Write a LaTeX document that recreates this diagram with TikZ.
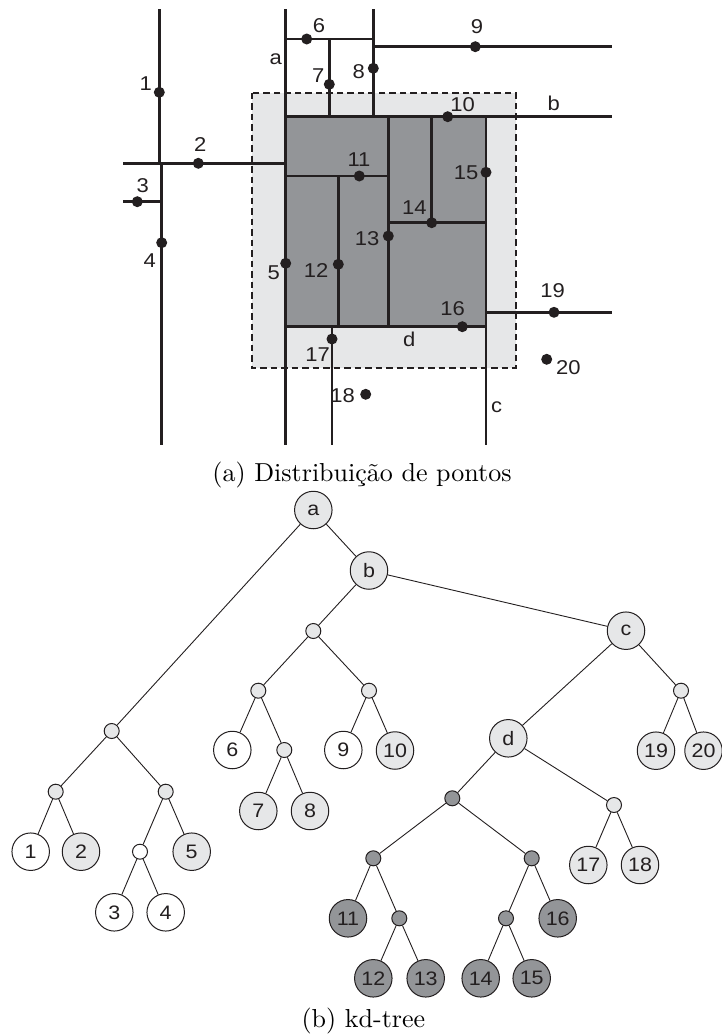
\documentclass[tikz,border=0pt]{standalone}
\usepackage{fontspec}
\newfontfamily\labfont{Liberation Sans}[FakeStretch=1.1]
\newfontfamily\capfont{lmroman10-regular}[Extension=.otf]
\definecolor{ink}{RGB}{35,31,32}
\definecolor{lightfill}{RGB}{230,231,232}
\definecolor{darkfill}{RGB}{147,149,152}
\tikzset{
  cut/.style={ink, line width=2.7pt},
  pt/.style={circle, fill=ink, inner sep=0pt, minimum size=11pt},
  lbl/.style={inner sep=0pt, text=ink, font=\labfont\fontsize{20}{22}\selectfont},
  caption/.style={inner sep=0pt, anchor=base, text=black, font=\capfont\fontsize{26}{30}\selectfont},
  tnode/.style={circle, draw=ink, line width=1pt, inner sep=0pt, minimum size=37.5pt,
    text=ink, font=\labfont\fontsize{19.5}{21}\selectfont},
  snode/.style={circle, draw=ink, line width=1pt, inner sep=0pt, minimum size=15pt},
  white/.style={fill=white},
  light/.style={fill=lightfill},
  dark/.style={fill=darkfill},
  edge/.style={ink, line width=0.9pt},
}
\begin{document}
\begin{tikzpicture}[x=1pt,y=-1pt]
\useasboundingbox (0,0) rectangle (722,1036);

% ---------- (a) point distribution ----------
% query region and the cells it fully covers
\fill[lightfill] (251.7,92.7) rectangle (516,367.7);
\fill[darkfill] (285.7,116.7) rectangle (486,326.7);

% splitting lines
\draw[cut] (159.3,9) -- (159.3,163.3);
\draw[cut] (161.7,163.3) -- (161.7,445);
\draw[cut] (123,163.3) -- (285.7,163.3);
\draw[cut] (123,201.7) -- (161.7,201.7);
\draw[cut] (285.7,9) -- (285.7,445);
\draw[cut] (285.7,39) -- (373.3,39);
\draw[cut] (329.3,39) -- (329.3,116.7);
\draw[cut] (373.3,9) -- (373.3,116.7);
\draw[cut] (373.3,46.7) -- (612.3,46.7);
\draw[cut] (285.7,116.7) -- (612.3,116.7);
\draw[cut] (486,116.7) -- (486,445);
\draw[cut] (285.7,326.7) -- (486,326.7);
\draw[cut] (285.7,176) -- (388.3,176);
\draw[cut] (388.3,116.7) -- (388.3,326.7);
\draw[cut] (338.3,176) -- (338.3,326.7);
\draw[cut] (431.7,116.7) -- (431.7,222.7);
\draw[cut] (388.3,222.7) -- (486,222.7);
\draw[cut] (332,326.7) -- (332,445);
\draw[cut] (486,312.3) -- (612.3,312.3);

\draw[ink, line width=2pt, dash pattern=on 6.5pt off 4pt] (251.7,92.7) rectangle (516,367.7);

% points
\node[pt] (p1) at (159.3,92.3) {};
\node[pt] (p2) at (198.3,163.3) {};
\node[pt] (p3) at (137.3,201.7) {};
\node[pt] (p4) at (161.7,242.7) {};
\node[pt] (p5) at (285.7,263.3) {};
\node[pt] (p6) at (306.7,39) {};
\node[pt] (p7) at (329.3,84.3) {};
\node[pt] (p8) at (373.3,68.3) {};
\node[pt] (p9) at (475.3,46.7) {};
\node[pt] (p10) at (447.7,116.7) {};
\node[pt] (p11) at (359.3,176) {};
\node[pt] (p12) at (338.3,264.3) {};
\node[pt] (p13) at (388.3,236) {};
\node[pt] (p14) at (431.7,222.7) {};
\node[pt] (p15) at (486,172.3) {};
\node[pt] (p16) at (462.3,326.7) {};
\node[pt] (p17) at (332,339) {};
\node[pt] (p18) at (365.7,394.3) {};
\node[pt] (p19) at (554,312.3) {};
\node[pt] (p20) at (546.7,359.3) {};

% point labels
\node[lbl] (l1) at (145.7,84) {1};
\node[lbl] (l2) at (200.3,144.3) {2};
\node[lbl] (l3) at (142.8,185.7) {3};
\node[lbl] (l4) at (149.7,260.7) {4};
\node[lbl] (l5) at (273.7,273) {5};
\node[lbl] (l6) at (319,25.7) {6};
\node[lbl] (l7) at (318.3,75.7) {7};
\node[lbl] (l8) at (358.7,71.7) {8};
\node[lbl] (l9) at (477,27) {9};
\node[lbl] (l10) at (462.7,104.3) {10};
\node[lbl] (l11) at (359,159.7) {11};
\node[lbl] (l12) at (316,270.3) {12};
\node[lbl] (l13) at (367,239) {13};
\node[lbl] (l14) at (414.3,207.3) {14};
\node[lbl] (l15) at (466,172.7) {15};
\node[lbl] (l16) at (452.7,309) {16};
\node[lbl] (l17) at (317.7,354.3) {17};
\node[lbl] (l18) at (342.7,395.3) {18};
\node[lbl] (l19) at (552.7,290.7) {19};
\node[lbl] (l20) at (568.3,367.3) {20};
% line labels
\node[lbl] (la) at (275.7,59.3) {a};
\node[lbl] (lb) at (553.7,103.3) {b};
\node[lbl] (lc) at (496.7,407.3) {c};
\node[lbl] (ld) at (409.3,339) {d};

\node[caption] (capa) at (362,481) {(a) Distribuição de pontos};

% ---------- (b) kd-tree ----------
\node[tnode, light] (ta) at (313.3,510) {a};
\node[tnode, light] (tb) at (369,570.5) {b};
\node[snode, light] (s1) at (313.3,631) {};
\node[snode, light] (s2) at (258.3,690.7) {};
\node[snode, light] (s3) at (369,690.7) {};
\node[tnode, white] (t6) at (232.3,750) {6};
\node[snode, light] (s4) at (284.3,750) {};
\node[tnode, white] (t9) at (343.3,750) {9};
\node[tnode, light] (t10) at (395,750.5) {10};
\node[tnode, light] (t7) at (258.3,811) {7};
\node[tnode, light] (t8) at (310,811) {8};

\node[snode, light] (sl) at (111.7,731) {};
\node[snode, light] (sl1) at (55.7,791.7) {};
\node[snode, light] (sl2) at (165.7,791.7) {};
\node[tnode, white] (t1) at (30.7,851.7) {1};
\node[tnode, light] (t2) at (81,851.7) {2};
\node[snode, white] (sw) at (140,851.7) {};
\node[tnode, light] (t5) at (191.7,851.7) {5};
\node[tnode, white] (t3) at (114.3,912.3) {3};
\node[tnode, white] (t4) at (165.7,912.3) {4};

\node[tnode, light] (tc) at (626,630.7) {c};
\node[snode, light] (sc) at (681,690.7) {};
\node[tnode, light] (t19) at (656,750.7) {19};
\node[tnode, light] (t20) at (703.5,750.7) {20};
\node[tnode, light] (td) at (508.3,738.3) {d};
\node[snode, dark] (sd1) at (452.3,798.3) {};
\node[snode, light] (sd2) at (614,805) {};
\node[snode, dark] (sd3) at (373.3,858.3) {};
\node[snode, dark] (sd4) at (531.7,858.3) {};
\node[tnode, light] (t17) at (588.3,865) {17};
\node[tnode, light] (t18) at (640,865) {18};
\node[tnode, dark] (t11) at (348,918.3) {11};
\node[snode, dark] (sd5) at (399.3,918.3) {};
\node[snode, dark] (sd6) at (506,918.3) {};
\node[tnode, dark] (t16) at (557.7,918.3) {16};
\node[tnode, dark] (t12) at (373.3,978.3) {12};
\node[tnode, dark] (t13) at (425.7,978.3) {13};
\node[tnode, dark] (t14) at (480.7,978.3) {14};
\node[tnode, dark] (t15) at (531.7,978.3) {15};

% tree edges
\draw[edge] (ta) -- (sl);
\draw[edge] (ta) -- (tb);
\draw[edge] (tb) -- (s1);
\draw[edge] (tb) -- (tc);
\draw[edge] (s1) -- (s2);
\draw[edge] (s1) -- (s3);
\draw[edge] (s2) -- (t6);
\draw[edge] (s2) -- (s4);
\draw[edge] (s4) -- (t7);
\draw[edge] (s4) -- (t8);
\draw[edge] (s3) -- (t9);
\draw[edge] (s3) -- (t10);
\draw[edge] (sl) -- (sl1);
\draw[edge] (sl) -- (sl2);
\draw[edge] (sl1) -- (t1);
\draw[edge] (sl1) -- (t2);
\draw[edge] (sl2) -- (sw);
\draw[edge] (sl2) -- (t5);
\draw[edge] (sw) -- (t3);
\draw[edge] (sw) -- (t4);
\draw[edge] (tc) -- (td);
\draw[edge] (tc) -- (sc);
\draw[edge] (sc) -- (t19);
\draw[edge] (sc) -- (t20);
\draw[edge] (td) -- (sd1);
\draw[edge] (td) -- (sd2);
\draw[edge] (sd1) -- (sd3);
\draw[edge] (sd1) -- (sd4);
\draw[edge] (sd3) -- (t11);
\draw[edge] (sd3) -- (sd5);
\draw[edge] (sd5) -- (t12);
\draw[edge] (sd5) -- (t13);
\draw[edge] (sd4) -- (sd6);
\draw[edge] (sd4) -- (t16);
\draw[edge] (sd6) -- (t14);
\draw[edge] (sd6) -- (t15);
\draw[edge] (sd2) -- (t17);
\draw[edge] (sd2) -- (t18);

\node[caption] (capb) at (363.4,1027) {(b) kd-tree};
\end{tikzpicture}
\end{document}
